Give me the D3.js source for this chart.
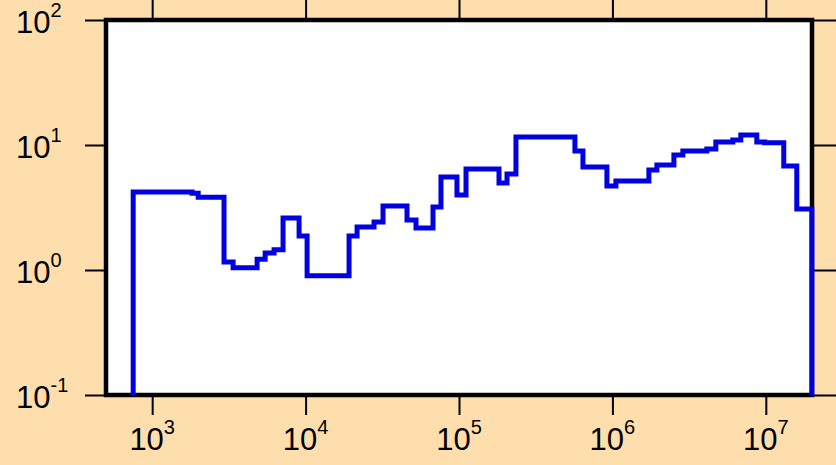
<!DOCTYPE html>
<html>
<head>
<meta charset="utf-8">
<script src="https://cdn.jsdelivr.net/npm/d3@7"></script>
<style>
  body { margin: 0; background: #ffdead; }
  svg { display: block; font-family: "Liberation Sans", Arial, sans-serif; }
</style>
</head>
<body>
<svg id="chart" width="836" height="465"></svg>
<script>
// bin edges (x) and step values (y)
const binEdges = [752, 1820, 1995, 2940, 3370, 4830, 5450, 6230, 7130, 9070, 10230,
  19200, 21660, 27940, 31970, 45820, 52450, 67700, 76300, 97000, 111100,
  182300, 205600, 235100, 569800, 642600, 920800, 1054000, 1729000, 1950000, 2517000,
  2879000, 4126000, 4722000, 6095000, 6871000, 8735000, 9840000, 13090000, 15920000, 19950000];
const binValues = [4.21, 4.11, 3.82, 1.16, 1.04, 1.22, 1.37, 1.45, 2.61, 1.87,
  0.90, 1.87, 2.21, 2.42, 3.25, 2.51, 2.17, 3.19, 5.55, 3.98,
  6.43, 4.97, 5.86, 11.6, 8.95, 6.67, 4.70, 5.15, 6.31, 6.92,
  8.32, 8.95, 9.29, 10.57, 10.96, 12.0, 10.57, 10.4, 6.79, 3.08];

const xTicks = [1e3, 1e4, 1e5, 1e6, 1e7];
const xExp = ["3", "4", "5", "6", "7"];
const yTicks = [0.1, 1, 10, 100];
const yExp = ["-1", "0", "1", "2"];

const xDomain = [500, 2e7];
const yDomain = [0.1, 100];

const width = 836, height = 465;
const margin = {top: 20, right: 24, bottom: 70, left: 106};

const svg = d3.select("#chart");

const x = d3.scaleLog().domain(xDomain).range([margin.left, width - margin.right]);
const y = d3.scaleLog().domain(yDomain).range([height - margin.bottom, margin.top]);

// plot area
svg.append("rect")
    .attr("x", x(xDomain[0]))
    .attr("y", y(yDomain[1]))
    .attr("width", x(xDomain[1]) - x(xDomain[0]))
    .attr("height", y(yDomain[0]) - y(yDomain[1]))
    .attr("fill", "white");

// ticks on all four sides
function ticksOnly(axis, tv, size) {
  return axis.tickValues(tv).tickSize(size).tickFormat("");
}
const axes = [
  [ticksOnly(d3.axisBottom(x), xTicks, 20), `translate(0,${y(yDomain[0])})`],
  [ticksOnly(d3.axisTop(x), xTicks, 20), `translate(0,${y(yDomain[1])})`],
  [ticksOnly(d3.axisLeft(y), yTicks, 21), `translate(${x(xDomain[0])},0)`],
  [ticksOnly(d3.axisRight(y), yTicks, 24), `translate(${x(xDomain[1])},0)`]
];
axes.forEach(function (a) {
  const g = svg.append("g").attr("transform", a[1]).call(a[0]);
  g.select(".domain").remove();
  g.selectAll(".tick line").attr("stroke", "black").attr("stroke-width", 2);
});

// tick labels, 10 with superscript
const xLab = svg.append("g").selectAll("text")
    .data(xTicks)
    .enter()
    .append("text")
    .attr("x", d => x(d))
    .attr("y", y(yDomain[0]) + 55)
    .attr("text-anchor", "middle")
    .attr("font-size", 31);
xLab.append("tspan").text("10");
xLab.append("tspan").attr("font-size", 20).attr("dy", -16).text((d, i) => xExp[i]);

const yLab = svg.append("g").selectAll("text")
    .data(yTicks)
    .enter()
    .append("text")
    .attr("x", 16)
    .attr("y", d => y(d) + 13)
    .attr("font-size", 31);
yLab.append("tspan").text("10");
yLab.append("tspan").attr("font-size", 20).attr("dy", -16).text((d, i) => yExp[i]);

// frame
svg.append("rect")
    .attr("x", x(xDomain[0]))
    .attr("y", y(yDomain[1]))
    .attr("width", x(xDomain[1]) - x(xDomain[0]))
    .attr("height", y(yDomain[0]) - y(yDomain[1]))
    .attr("fill", "none")
    .attr("stroke", "black")
    .attr("stroke-width", 4.5);

// step line
const pts = [[binEdges[0], yDomain[0]]];
binValues.forEach(function (v, i) { pts.push([binEdges[i], v]); });
pts.push([binEdges[binEdges.length - 1], binValues[binValues.length - 1]]);
pts.push([binEdges[binEdges.length - 1], yDomain[0]]);

svg.append("path")
    .datum(pts)
    .attr("fill", "none")
    .attr("stroke", "#0000e0")
    .attr("stroke-width", 5)
    .attr("stroke-linejoin", "miter")
    .attr("d", d3.line()
        .x(d => x(d[0]))
        .y(d => y(d[1]))
        .curve(d3.curveStepAfter)
    );
</script>
</body>
</html>
